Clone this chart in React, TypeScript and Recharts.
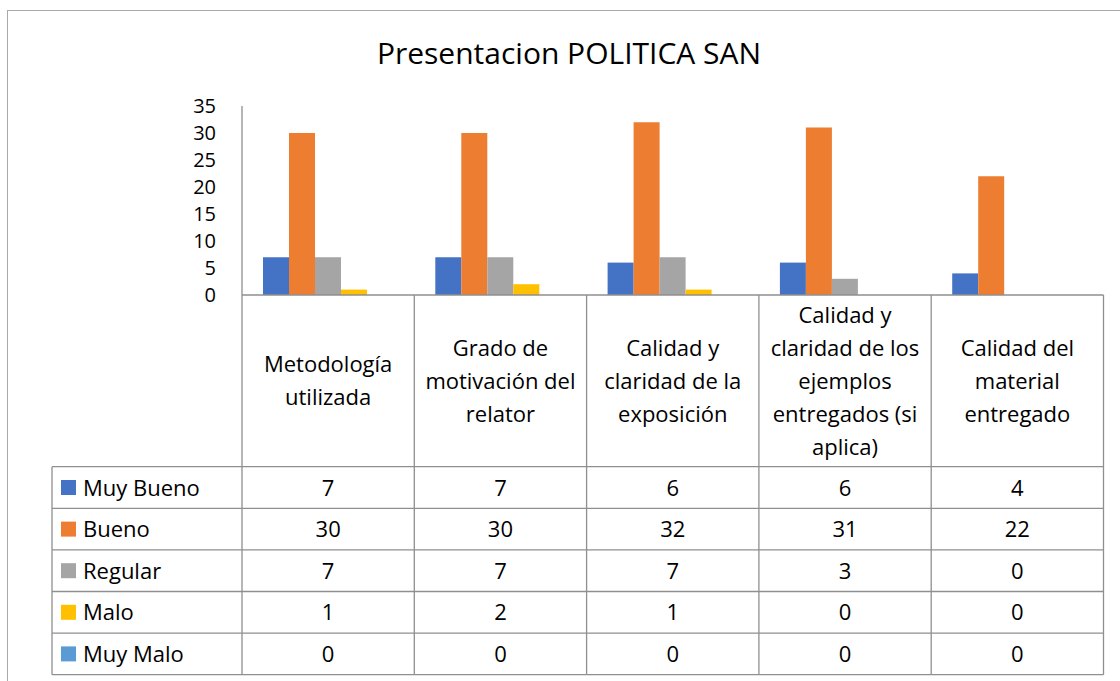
import React from 'react';
import { BarChart, Bar, XAxis, YAxis } from 'recharts';

const categories = [
  'Metodología utilizada',
  'Grado de motivación del relator',
  'Calidad y claridad de la exposición',
  'Calidad y claridad de los ejemplos entregados (si aplica)',
  'Calidad del material entregado',
];

// header lines as wrapped in the original table
const categoryLines = [
  ['Metodología', 'utilizada'],
  ['Grado de', 'motivación del', 'relator'],
  ['Calidad y', 'claridad de la', 'exposición'],
  ['Calidad y', 'claridad de los', 'ejemplos', 'entregados (si', 'aplica)'],
  ['Calidad del', 'material', 'entregado'],
];

const seriesNames = ['Muy Bueno', 'Bueno', 'Regular', 'Malo', 'Muy Malo'];
const muyBueno = [7, 7, 6, 6, 4];
const bueno = [30, 30, 32, 31, 22];
const regular = [7, 7, 7, 3, 0];
const malo = [1, 2, 1, 0, 0];
const muyMalo = [0, 0, 0, 0, 0];
const yTicks = [0, 5, 10, 15, 20, 25, 30, 35];

const seriesValues = [muyBueno, bueno, regular, malo, muyMalo];
const colors = ['#4472C4', '#ED7D31', '#A5A5A5', '#FFC000', '#5B9BD5'];

const data = categories.map((name, i) => ({
  name,
  muyBueno: muyBueno[i],
  bueno: bueno[i],
  regular: regular[i],
  malo: malo[i],
  muyMalo: muyMalo[i],
}));
const keys = ['muyBueno', 'bueno', 'regular', 'malo', 'muyMalo'];

const W = 1120;
const H = 681;
const PLOT_LEFT = 242;
const PLOT_RIGHT = 1103.5;
const COL_W = (PLOT_RIGHT - PLOT_LEFT) / categories.length;
const HEADER_H = 171.7;
const ROW_H = 41.6;
const LEGEND_W = 190;
const FONT = '"Open Sans", sans-serif';
const FS = 22;
const LINE = '#8f8f8f';

const TableTick = (props: any) => {
  const { x, y, payload } = props;
  const index = props.index ?? categories.indexOf(payload.value);
  const left = x - COL_W / 2;
  const right = x + COL_W / 2;
  const tableTop = y + HEADER_H;
  const bottom = tableTop + ROW_H * seriesNames.length;
  const lines = categoryLines[index] || [payload.value];
  const headMid = y + HEADER_H / 2;
  const items: React.ReactNode[] = [];

  items.push(<line key="vl" x1={left} x2={left} y1={y} y2={bottom} stroke={LINE} strokeWidth={1.3} />);
  if (index === categories.length - 1) {
    items.push(<line key="vr" x1={right} x2={right} y1={y} y2={bottom} stroke={LINE} strokeWidth={1.3} />);
  }
  for (let r = 0; r <= seriesNames.length; r++) {
    const ly = tableTop + r * ROW_H;
    items.push(<line key={'h' + r} x1={left} x2={right} y1={ly} y2={ly} stroke={LINE} strokeWidth={1.3} />);
  }
  lines.forEach((t, i) => {
    const cy = headMid + (i - (lines.length - 1) / 2) * 33;
    items.push(
      <text key={'t' + i} x={x} y={cy + 8} textAnchor="middle" fontSize={FS} fontFamily={FONT} fill="#000">
        {t}
      </text>
    );
  });
  seriesValues.forEach((vals, r) => {
    const cy = tableTop + (r + 0.5) * ROW_H;
    items.push(
      <text key={'v' + r} x={x} y={cy + 8} textAnchor="middle" fontSize={FS} fontFamily={FONT} fill="#000">
        {vals[index]}
      </text>
    );
  });

  if (index === 0) {
    const lx = left - LEGEND_W;
    items.push(<line key="lv" x1={lx} x2={lx} y1={tableTop} y2={bottom} stroke={LINE} strokeWidth={1.3} />);
    for (let r = 0; r <= seriesNames.length; r++) {
      const ly = tableTop + r * ROW_H;
      items.push(<line key={'lh' + r} x1={lx} x2={left} y1={ly} y2={ly} stroke={LINE} strokeWidth={1.3} />);
    }
    seriesNames.forEach((n, r) => {
      const cy = tableTop + (r + 0.5) * ROW_H;
      items.push(<rect key={'k' + r} x={lx + 9} y={cy - 7.5} width={15} height={15} fill={colors[r]} />);
      items.push(
        <text key={'n' + r} x={lx + 31} y={cy + 8} fontSize={FS} fontFamily={FONT} fill="#000">
          {n}
        </text>
      );
    });
  }
  return <g>{items}</g>;
};

export default function App() {
  return (
    <div style={{ position: 'absolute', left: 0, top: 0, width: W, height: H, overflow: 'hidden', background: '#fff' }}>
      <div
        style={{
          position: 'absolute',
          left: 7,
          top: 10,
          width: 1300,
          height: 900,
          border: '1.5px solid #a9a9a9',
          boxSizing: 'border-box',
        }}
      />
      <div
        style={{
          position: 'absolute',
          left: 0,
          width: 1138,
          top: 38,
          textAlign: 'center',
          fontFamily: FONT,
          fontSize: 30,
          lineHeight: '30px',
          color: '#000',
        }}
      >
        Presentacion POLITICA SAN
      </div>
      <div style={{ position: 'absolute', left: 0, top: 0 }}>
        <BarChart
          width={W}
          height={H}
          data={data}
          margin={{ top: 106, right: W - PLOT_RIGHT, left: 0, bottom: 0 }}
          barGap={0}
          barSize={26}
        >
          <XAxis
            dataKey="name"
            height={386}
            interval={0}
            tickLine={false}
            tickSize={0}
            tickMargin={0}
            axisLine={{ stroke: LINE, strokeWidth: 1.3 }}
            tick={<TableTick />}
          />
          <YAxis
            width={PLOT_LEFT}
            domain={[0, 35]}
            ticks={yTicks}
            interval={0}
            tickLine={false}
            tickSize={0}
            tickMargin={26}
            axisLine={{ stroke: LINE, strokeWidth: 1.3 }}
            tick={{ fontSize: 20, fontFamily: FONT, fill: '#000' }}
          />
          {keys.map((k, i) => (
            <Bar key={k} dataKey={k} name={seriesNames[i]} fill={colors[i]} isAnimationActive={false} />
          ))}
        </BarChart>
      </div>
    </div>
  );
}
